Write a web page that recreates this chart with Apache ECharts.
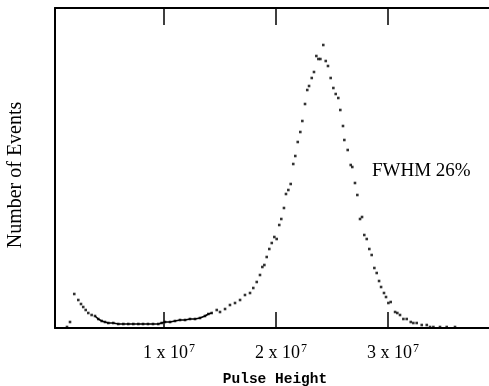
<!DOCTYPE html>
<html>
<head>
<meta charset="utf-8">
<script src="https://cdn.jsdelivr.net/npm/echarts@6/dist/echarts.min.js"></script>
<style>html,body{margin:0;padding:0;background:#fff}#c{width:489px;height:386px}</style>
</head>
<body>
<div id="c"></div>
<script>
// Pulse height in units of 1e7
var pulseHeight = [0.134,0.161,0.199,0.235,0.259,0.279,0.301,0.324,0.354,0.384,0.413,0.444,0.473,0.503,0.547,0.592,0.637,0.681,0.726,0.771,0.813,0.857,0.902,0.949,0.979,
1.009,1.054,1.098,1.143,1.188,1.232,1.277,1.321,1.366,1.396,1.426,1.471,1.500,1.545,1.589,1.634,1.679,1.723,1.768,1.797,1.828,1.857,
1.878,1.896,1.917,1.940,1.962,1.985,2.006,2.029,2.047,2.071,2.089,2.110,2.131,2.154,2.172,
2.194,2.217,2.235,2.259,2.279,2.295,2.319,2.339,2.360,2.378,2.396,2.422,2.444,2.464,2.488,2.512,2.533,2.556,2.574,2.598,2.610,
2.640,2.667,2.681,2.705,2.726,2.750,2.768,2.788,2.810,2.833,2.854,2.878,2.899,
2.920,2.938,2.964,2.982,3.003,3.024,3.063,3.083,3.107,3.137,3.167,3.203,3.226,3.256,3.301,3.346,3.375,3.405,3.464,3.524,3.598];
// Number of events (arbitrary units)
var events = [1,6,34,28,24,21,18,15,13,12,9,7,6,5,5,4,4,4,4,4,4,4,4,4,5,
6,6,7,8,8,9,9,10,12,14,15,18,16,19,23,25,28,33,35,40,46,53,
61,63,71,79,85,91,89,103,109,120,134,138,144,164,172,
186,196,207,224,238,242,250,256,272,269,269,283,267,262,250,240,234,230,218,202,188,
178,163,161,145,133,109,111,93,89,79,73,60,55,
47,41,35,31,25,26,16,15,13,9,9,6,5,5,3,3,1,1,1,1,1];
var tickValues = [1, 2, 3];
var annotation = 'FWHM 26%';

var pts = pulseHeight.map(function(x, i){ return [x, events[i]]; });
var dense = pts.filter(function(p){ return p[0] > 0.37 && p[0] < 1.45; });

var chart = echarts.init(document.getElementById('c'));
var serif = 'Liberation Serif';
chart.setOption({
  animation: false,
  grid: { left: 55, top: 8, width: 440, bottom: 58, containLabel: false, outerBoundsMode: 'none' },
  xAxis: [{
    type: 'value', min: 0.027, max: 3.955, position: 'bottom',
    name: 'Pulse Height', nameLocation: 'middle', nameGap: 44,
    nameTextStyle: { fontFamily: 'Liberation Mono', fontWeight: 'bold', fontSize: 14.5, color: '#000' },
    axisLine: { show: true, lineStyle: { color: '#000', width: 2 } },
    axisTick: { show: true, inside: true, length: 16, customValues: tickValues, lineStyle: { color: '#000', width: 1.5 } },
    axisLabel: { show: true, customValues: tickValues, margin: 15, padding: [0,0,0,10],
      formatter: function(v){ return '{a|' + v + ' x 10}{s|7}'; },
      rich: { a: { fontFamily: serif, fontSize: 18, color: '#000' }, s: { fontFamily: serif, fontSize: 12, color: '#000', padding: [0,0,9,1] } } },
    splitLine: { show: false }
  }, {
    type: 'value', min: 0.027, max: 3.955, position: 'top',
    axisLine: { show: true, lineStyle: { color: '#000', width: 2 } },
    axisTick: { show: true, inside: true, length: 17, customValues: tickValues, lineStyle: { color: '#000', width: 1.5 } },
    axisLabel: { show: false },
    splitLine: { show: false }
  }],
  yAxis: {
    type: 'value', min: 0, max: 320,
    name: 'Number of Events', nameLocation: 'middle', nameGap: 29,
    nameTextStyle: { fontFamily: serif, fontSize: 20, color: '#000', padding: [0, 14, 0, 0] },
    axisLine: { show: true, lineStyle: { color: '#000', width: 2 } },
    axisTick: { show: false }, axisLabel: { show: false }, splitLine: { show: false }
  },
  graphic: [{
    type: 'text', left: 372, top: 162,
    style: { text: annotation, font: '19px "Liberation Serif"', fill: '#000' }
  }],
  series: [{
    type: 'line', data: dense, showSymbol: false, symbol: 'none',
    lineStyle: { color: '#000', width: 1.5 }, silent: true
  }, {
    type: 'scatter', data: pts, symbol: 'rect', symbolSize: 2.6,
    itemStyle: { color: '#000' }, silent: true
  }]
});
</script>
</body>
</html>
